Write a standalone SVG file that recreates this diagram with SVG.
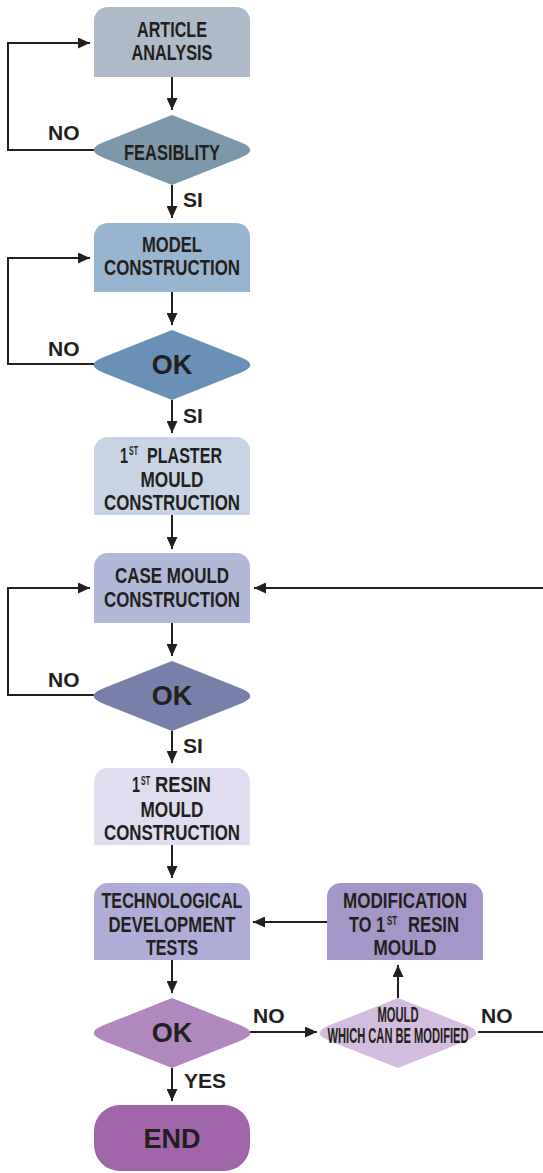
<svg xmlns="http://www.w3.org/2000/svg" width="543" height="1173" viewBox="0 0 543 1173">
<style>
.t{font-family:"Liberation Sans Narrow","Liberation Sans",Arial,sans-serif;font-weight:bold;font-size:22px;fill:#231f20;text-anchor:middle}
.s{text-anchor:start}
.sup{font-size:12px}
.ok{font-family:"Liberation Sans",Arial,sans-serif;font-weight:bold;font-size:27px;fill:#231f20;text-anchor:middle}
.lb{font-family:"Liberation Sans",Arial,sans-serif;font-weight:bold;font-size:21px;fill:#231f20}
.c{fill:none;stroke:#231f20;stroke-width:2}
</style>
<defs>
<marker id="ah" markerUnits="userSpaceOnUse" markerWidth="12" markerHeight="11" refX="12" refY="5.5" orient="auto">
<path d="M0,0 L12,5.5 L0,11 Z" fill="#231f20"/>
</marker>
<path id="dia" d="M0,-35 L68.6,-7.7 Q88,0 68.6,7.7 L0,35 L-68.6,7.7 Q-88,0 -68.6,-7.7 Z"/>
</defs>
<rect width="543" height="1173" fill="#ffffff"/>

<g id="connectors">
<path class="c" marker-end="url(#ah)" d="M172,77 V110"/>
<path class="c" marker-end="url(#ah)" d="M94,150 H8 V43 H90"/>
<path class="c" marker-end="url(#ah)" d="M172,185 V218"/>
<path class="c" marker-end="url(#ah)" d="M172,292 V325"/>
<path class="c" marker-end="url(#ah)" d="M94,364 H8 V258 H90"/>
<path class="c" marker-end="url(#ah)" d="M172,400 V433"/>
<path class="c" marker-end="url(#ah)" d="M172,515 V549"/>
<path class="c" marker-end="url(#ah)" d="M172,623 V656"/>
<path class="c" marker-end="url(#ah)" d="M94,695 H8 V588 H90"/>
<path class="c" marker-end="url(#ah)" d="M543,588 H254"/>
<path class="c" marker-end="url(#ah)" d="M172,731 V763"/>
<path class="c" marker-end="url(#ah)" d="M172,845 V878"/>
<path class="c" marker-end="url(#ah)" d="M172,960 V993"/>
<path class="c" marker-end="url(#ah)" d="M250,1032 H317"/>
<path class="c" marker-end="url(#ah)" d="M398,998 V965"/>
<path class="c" d="M478,1032 H543"/>
<path class="c" marker-end="url(#ah)" d="M327,922 H253"/>
<path class="c" marker-end="url(#ah)" d="M172,1068 V1101"/>
<text class="lb" x="48" y="140">NO</text>
<text class="lb" x="183" y="207">SI</text>
<text class="lb" x="48" y="356">NO</text>
<text class="lb" x="183" y="423">SI</text>
<text class="lb" x="48" y="687">NO</text>
<text class="lb" x="183" y="753">SI</text>
<text class="lb" x="253" y="1023">NO</text>
<text class="lb" x="481" y="1023">NO</text>
<text class="lb" x="184" y="1088">YES</text>
</g>

<g id="article-analysis">
<path d="M94,21 A14,14 0 0 1 108,7 H236 A14,14 0 0 1 250,21 V77 H94 Z" fill="#aebac8"/>
<text class="t" x="172" y="37" textLength="70" lengthAdjust="spacingAndGlyphs">ARTICLE</text>
<text class="t" x="172" y="60" textLength="81" lengthAdjust="spacingAndGlyphs">ANALYSIS</text>
</g>

<g id="feasibility">
<use href="#dia" transform="translate(172,150)" fill="#7d97ab"/>
<text class="t" x="172" y="160" textLength="96" lengthAdjust="spacingAndGlyphs">FEASIBLITY</text>
</g>

<g id="model-construction">
<path d="M94,237 A14,14 0 0 1 108,223 H236 A14,14 0 0 1 250,237 V292 H94 Z" fill="#97b5cf"/>
<text class="t" x="172" y="252" textLength="60" lengthAdjust="spacingAndGlyphs">MODEL</text>
<text class="t" x="172" y="275" textLength="136" lengthAdjust="spacingAndGlyphs">CONSTRUCTION</text>
</g>

<g id="ok-model">
<use href="#dia" transform="translate(172,365)" fill="#6991b8"/>
<text class="ok" x="172" y="374">OK</text>
</g>

<g id="plaster-mould">
<path d="M94,451 A14,14 0 0 1 108,437 H236 A14,14 0 0 1 250,451 V515 H94 Z" fill="#c8d4e4"/>
<text class="t s" y="463"><tspan x="120" textLength="8" lengthAdjust="spacingAndGlyphs">1</tspan><tspan class="sup" x="129" y="455" textLength="9" lengthAdjust="spacingAndGlyphs">ST</tspan><tspan x="147" y="463" textLength="75" lengthAdjust="spacingAndGlyphs">PLASTER</tspan></text>
<text class="t" x="172" y="487" textLength="63" lengthAdjust="spacingAndGlyphs">MOULD</text>
<text class="t" x="172" y="510" textLength="136" lengthAdjust="spacingAndGlyphs">CONSTRUCTION</text>
</g>

<g id="case-mould">
<path d="M94,567 A14,14 0 0 1 108,553 H236 A14,14 0 0 1 250,567 V623 H94 Z" fill="#b2b8d7"/>
<text class="t" x="172" y="583" textLength="114" lengthAdjust="spacingAndGlyphs">CASE MOULD</text>
<text class="t" x="172" y="607" textLength="136" lengthAdjust="spacingAndGlyphs">CONSTRUCTION</text>
</g>

<g id="ok-case">
<use href="#dia" transform="translate(172,696)" fill="#7880aa"/>
<text class="ok" x="172" y="705">OK</text>
</g>

<g id="resin-mould">
<path d="M94,782 A14,14 0 0 1 108,768 H236 A14,14 0 0 1 250,782 V845 H94 Z" fill="#dfddef"/>
<text class="t s" y="792"><tspan x="132" textLength="8" lengthAdjust="spacingAndGlyphs">1</tspan><tspan class="sup" x="141" y="785" textLength="9" lengthAdjust="spacingAndGlyphs">ST</tspan><tspan x="155" y="792" textLength="56" lengthAdjust="spacingAndGlyphs">RESIN</tspan></text>
<text class="t" x="172" y="817" textLength="63" lengthAdjust="spacingAndGlyphs">MOULD</text>
<text class="t" x="172" y="840" textLength="136" lengthAdjust="spacingAndGlyphs">CONSTRUCTION</text>
</g>

<g id="tech-tests">
<path d="M94,897 A14,14 0 0 1 108,883 H236 A14,14 0 0 1 250,897 V960 H94 Z" fill="#afacd7"/>
<text class="t" x="172" y="908" textLength="141" lengthAdjust="spacingAndGlyphs">TECHNOLOGICAL</text>
<text class="t" x="172" y="932" textLength="127" lengthAdjust="spacingAndGlyphs">DEVELOPMENT</text>
<text class="t" x="172" y="955" textLength="52" lengthAdjust="spacingAndGlyphs">TESTS</text>
</g>

<g id="modification">
<path d="M327,897 A14,14 0 0 1 341,883 H469 A14,14 0 0 1 483,897 V960 H327 Z" fill="#a497c8"/>
<text class="t" x="405" y="908" textLength="124" lengthAdjust="spacingAndGlyphs">MODIFICATION</text>
<text class="t s" y="932"><tspan x="349" textLength="36" lengthAdjust="spacingAndGlyphs">TO 1</tspan><tspan class="sup" x="387" y="925" textLength="10" lengthAdjust="spacingAndGlyphs">ST</tspan><tspan x="408" y="932" textLength="51" lengthAdjust="spacingAndGlyphs">RESIN</tspan></text>
<text class="t" x="405" y="955" textLength="63" lengthAdjust="spacingAndGlyphs">MOULD</text>
</g>

<g id="ok-tests">
<use href="#dia" transform="translate(172,1033)" fill="#b088bf"/>
<text class="ok" x="172" y="1042">OK</text>
</g>

<g id="mould-modifiable">
<use href="#dia" transform="translate(398,1033)" fill="#d3bcdd"/>
<text class="t" x="398" y="1022" textLength="41" lengthAdjust="spacingAndGlyphs">MOULD</text>
<text class="t" x="398" y="1043" textLength="141" lengthAdjust="spacingAndGlyphs">WHICH CAN BE MODIFIED</text>
</g>

<g id="end">
<rect x="94" y="1105" width="156" height="66" rx="26" ry="26" fill="#a066a9"/>
<text class="ok" x="172" y="1148">END</text>
</g>
</svg>
